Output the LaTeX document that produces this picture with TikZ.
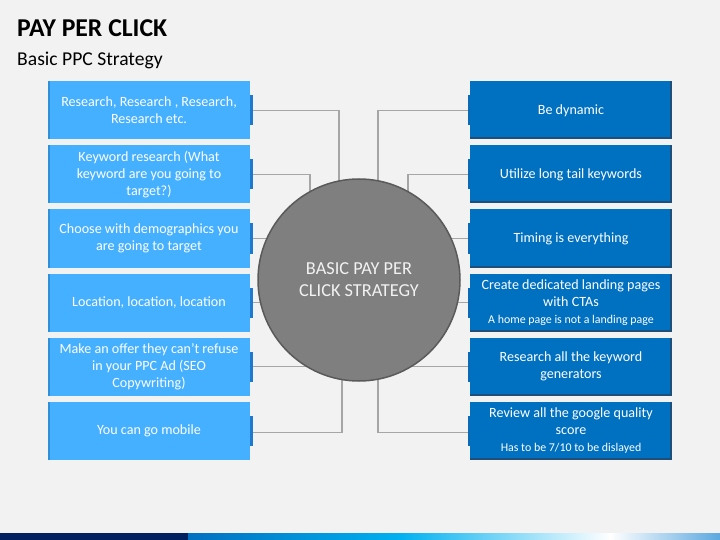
\documentclass[tikz,border=0pt]{standalone}
\usepackage{fontspec}
\setmainfont{Carlito}
\usetikzlibrary{calc}
\definecolor{bgc}{HTML}{F2F2F2}
\definecolor{lblue}{HTML}{45B0FF}
\definecolor{lblueD}{HTML}{2F8FD8}
\definecolor{ltab}{HTML}{1F7ACF}
\definecolor{dblue}{HTML}{0070C0}
\definecolor{rtab}{HTML}{0A6AB5}
\definecolor{dblueD}{HTML}{1F4E79}
\definecolor{cgray}{HTML}{7F7F7F}
\definecolor{cgrayD}{HTML}{5A5A5A}
\definecolor{connc}{HTML}{A6A6A6}
\definecolor{navy}{HTML}{002060}
\definecolor{cyanb}{HTML}{00B0F0}
\definecolor{lightb}{HTML}{5BA8E0}
\pgfdeclarelayer{back}
\pgfdeclarelayer{conn}
\pgfsetlayers{back,conn,main}
\tikzset{
  boxfont/.style={font=\fontsize{14.1}{17}\selectfont},
  lbox/.style={fill=lblue, minimum width=202pt, minimum height=58pt, inner sep=0pt,
    align=center, text=white, boxfont,
    path picture={\fill[lblueD] (path picture bounding box.south west) rectangle ([xshift=2pt]path picture bounding box.north west);}},
  rbox/.style={fill=dblue, minimum width=202pt, minimum height=58pt, inner sep=0pt,
    align=center, text=white, boxfont,
    path picture={\fill[dblueD] (path picture bounding box.south east) rectangle ([xshift=-2.5pt]path picture bounding box.north east);
      \fill[dblueD] (path picture bounding box.south west) rectangle ([yshift=2pt]path picture bounding box.south east);}},
  conn/.style={draw=connc, line width=1.3pt},
  ltabst/.style={fill=ltab},
  rtabst/.style={fill=rtab},
}
\newcommand{\smalltxt}[1]{{\fontsize{11.9}{14}\selectfont #1}}
\begin{document}
\begin{tikzpicture}[x=1pt,y=-1pt]
\useasboundingbox (0,0) rectangle (720,540);
\begin{pgfonlayer}{back}
\fill[bgc] (0,0) rectangle (720,540);
\fill[navy] (0,533) rectangle (188,540);
\shade[left color=dblue, right color=cyanb] (188,533) rectangle (400,540);
\shade[left color=cyanb, right color=white] (400,533) rectangle (610,540);
\shade[left color=white, right color=lightb] (610,533) rectangle (720,540);
\end{pgfonlayer}

\node[anchor=base west, inner sep=0pt, font=\fontsize{25.7}{30}\selectfont\bfseries] (T) at (17,37) {PAY PER CLICK};
\node[anchor=base west, inner sep=0pt, font=\fontsize{19.6}{23}\selectfont] (S) at (17,66) {Basic PPC Strategy};

\node[circle, minimum size=202pt, inner sep=0pt, fill=cgray, draw=cgrayD, line width=1.5pt,
  text=bgc, align=center, font=\fontsize{18.3}{22}\selectfont] (C) at (359,280) {BASIC PAY PER\\CLICK STRATEGY};

\node[lbox] (L1) at (149,110.5) {Research, Research , Research,\\Research etc.};
\node[lbox] (L2) at (149,174.5) {Keyword research (What\\keyword are you going to\\target?)};
\node[lbox] (L3) at (149,238.5) {Choose with demographics you\\are going to target};
\node[lbox] (L4) at (149,302.5) {Location, location, location};
\node[lbox] (L5) at (149,366.5) {Make an offer they can’t refuse\\in your PPC Ad (SEO\\Copywriting)};
\node[lbox] (L6) at (149,430.5) {You can go mobile};

\node[rbox] (R1) at (571,110.5) {Be dynamic};
\node[rbox] (R2) at (571,174.5) {Utilize long tail keywords};
\node[rbox] (R3) at (571,238.5) {Timing is everything};
\node[rbox] (R4) at (571,302.5) {Create dedicated landing pages\\with CTAs\\\smalltxt{A home page is not a landing page}};
\node[rbox] (R5) at (571,366.5) {Research all the keyword\\generators};
\node[rbox] (R6) at (571,430.5) {Review all the google quality\\score\\\smalltxt{Has to be 7/10 to be dislayed}};

\foreach \n in {L1,L2,L3,L4,L5,L6}{
  \fill[ltabst] ([yshift=-15pt]\n.east) rectangle ([xshift=2.5pt,yshift=15pt]\n.east);
}
\foreach \n in {R1,R2,R3,R4,R5,R6}{
  \fill[rtabst] ([yshift=-15pt]\n.west) rectangle ([xshift=-1.5pt,yshift=15pt]\n.west);
}

\begin{pgfonlayer}{conn}
\draw[conn] (L1.east) -| ($(C.center)+(-20,0)$);
\draw[conn] (L2.east) -| ($(C.center)+(-49,0)$);
\draw[conn] (L3.east) -- (L3.east -| C.center);
\draw[conn] (L4.east) -- (L4.east -| C.center);
\draw[conn] (L5.east) -- (L5.east -| C.center);
\draw[conn] ([yshift=-2pt]L6.east) -| ($(C.center)+(-17,0)$);
\draw[conn] (R1.west) -| ($(C.center)+(19,0)$);
\draw[conn] (R2.west) -| ($(C.center)+(49,0)$);
\draw[conn] (R3.west) -- (R3.west -| C.center);
\draw[conn] (R4.west) -- (R4.west -| C.center);
\draw[conn] (R5.west) -- (R5.west -| C.center);
\draw[conn] ([yshift=-2pt]R6.west) -| ($(C.center)+(19,0)$);
\end{pgfonlayer}
\end{tikzpicture}
\end{document}
